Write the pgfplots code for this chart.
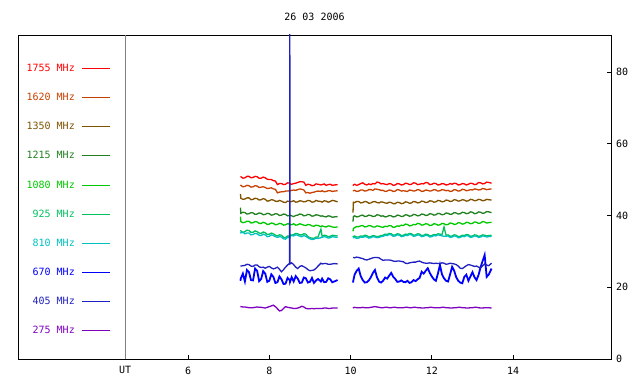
\documentclass[border=0pt]{standalone}
\usepackage{pgfplots}
\usepackage{pgfplotstable}
\pgfplotsset{compat=1.18}
\usepackage{fontspec}
\setmainfont{DejaVu Sans Mono}
\definecolor{c1755}{RGB}{255,0,0}
\definecolor{c1620}{RGB}{200,64,0}
\definecolor{c1350}{RGB}{128,82,0}
\definecolor{c1215}{RGB}{32,128,32}
\definecolor{c1080}{RGB}{0,200,0}
\definecolor{c925}{RGB}{0,192,96}
\definecolor{c810}{RGB}{0,192,192}
\definecolor{c670}{RGB}{0,0,255}
\definecolor{c405}{RGB}{32,32,192}
\definecolor{c275}{RGB}{128,0,192}
\pgfplotstableread{
t a b c d e f g h i j
7.29 50.8 48.5 46.0 42.2 39.7 35.9 35.0 21.8 25.9 14.6
7.30 50.8 48.4 44.8 40.6 38.3 35.7 35.2 22.5 25.9 14.6
7.35 50.4 48.0 44.5 40.9 38.0 35.2 35.4 23.8 26.0 14.5
7.40 50.5 48.1 44.6 40.8 38.1 35.5 34.9 21.6 26.1 14.5
7.45 50.9 48.4 44.9 40.4 38.4 35.9 35.1 24.8 26.4 14.4
7.50 50.9 48.3 44.9 40.5 38.4 35.8 35.1 24.2 26.3 14.3
7.55 50.5 47.9 44.4 40.8 37.9 35.3 34.6 22.0 25.9 14.3
7.60 50.6 48.0 44.5 40.7 38.0 35.3 34.7 21.9 25.8 14.3
7.65 50.9 48.3 44.8 40.3 38.3 35.7 35.0 25.2 26.2 14.4
7.70 50.8 48.2 44.7 40.4 38.2 35.5 34.9 24.6 26.2 14.5
7.75 50.4 47.8 44.3 40.7 37.8 35.1 34.5 21.7 25.7 14.4
7.80 50.4 47.9 44.4 40.6 37.8 35.0 34.4 22.3 25.5 14.4
7.85 50.7 48.0 44.7 40.2 38.1 35.4 34.8 24.5 25.6 14.3
7.90 50.5 47.8 44.5 40.3 37.9 35.2 34.6 23.8 25.3 14.2
7.95 50.1 47.5 44.0 40.6 37.5 34.7 34.1 21.5 25.6 14.4
8.00 50.0 47.6 44.1 40.5 37.6 34.8 34.2 21.8 25.8 14.6
8.05 50.0 47.7 44.4 40.1 37.9 35.1 34.6 23.6 25.4 14.8
8.10 49.7 47.4 44.3 40.2 37.8 34.9 34.4 22.9 25.1 15.0
8.15 49.6 47.3 44.0 40.5 37.4 34.5 34.1 21.2 25.3 14.6
8.20 48.6 46.3 43.9 40.4 37.5 34.3 33.9 21.4 25.6 14.0
8.25 48.9 46.5 44.2 40.0 37.8 34.6 34.1 23.0 25.0 13.4
8.30 48.9 46.6 44.0 40.1 37.7 34.5 34.0 22.2 24.3 13.5
8.35 48.6 46.6 43.7 40.4 37.3 33.9 33.5 20.9 24.9 14.1
8.40 48.7 46.8 43.6 40.3 37.4 33.8 33.4 21.0 25.6 14.6
8.45 49.1 46.8 44.0 39.9 37.7 34.3 33.9 22.6 26.2 14.4
8.50 49.0 46.9 43.9 40.0 37.6 34.2 33.8 22.0 26.7 14.3
8.505 49.0 46.9 43.9 40.0 37.6 34.2 33.8 22.0 95 14.3
8.51 48.8 46.9 43.8 40.1 37.5 34.6 34.2 21.5 26.5 14.3
8.55 48.7 47.0 43.9 39.9 37.4 34.5 34.4 22.8 26.8 14.2
8.60 48.9 47.1 44.1 39.7 37.7 34.7 34.3 21.6 26.3 14.1
8.65 49.0 47.0 43.7 40.0 37.3 35.0 34.6 23.1 25.6 14.1
8.70 49.2 47.2 43.8 40.1 37.4 34.9 34.5 22.4 25.2 14.2
8.75 49.4 47.4 44.1 40.4 37.7 34.6 34.2 21.2 25.8 14.4
8.80 49.4 47.3 44.0 40.3 37.5 34.6 34.1 21.3 26.0 14.7
8.85 49.3 47.1 43.8 39.9 37.3 34.9 34.4 22.7 25.7 14.5
8.90 48.4 46.3 43.9 40.0 37.2 34.8 34.2 22.5 25.4 14.1
8.95 48.7 46.4 44.2 40.3 37.5 34.1 33.8 21.3 24.9 14.0
9.00 48.6 46.2 44.1 40.2 37.4 33.8 33.5 21.5 24.6 14.0
9.05 48.3 46.4 43.7 39.8 37.1 33.7 33.3 22.6 24.7 14.1
9.10 48.4 46.5 43.8 39.9 37.0 33.6 33.4 21.2 24.8 14.0
9.15 48.8 46.7 44.2 40.2 37.3 34.0 33.7 21.9 25.3 14.1
9.20 48.7 46.8 44.0 40.1 37.2 34.0 33.6 22.3 25.9 14.1
9.27 48.5 46.7 43.9 39.8 36.9 36.2 33.8 21.6 26.7 14.1
9.30 48.6 46.9 43.7 39.9 37.1 34.2 33.9 22.4 26.5 14.1
9.35 48.8 46.6 44.1 39.7 36.9 34.5 34.1 21.4 26.6 14.2
9.40 48.4 46.7 44.0 39.6 36.8 34.4 34.0 21.5 26.6 14.2
9.45 48.6 46.9 43.7 39.9 37.1 34.1 33.7 22.5 26.4 14.1
9.50 48.7 46.9 43.9 39.8 37.0 34.2 33.8 22.2 26.4 14.1
9.55 48.4 46.7 44.2 39.5 36.8 34.5 34.1 21.4 26.5 14.2
9.60 48.5 46.8 44.1 39.6 36.7 34.4 34.0 21.6 26.6 14.2
9.68 48.6 46.9 43.8 39.7 36.8 34.3 33.9 22.0 26.5 14.2
9.90 nan nan nan nan nan nan nan nan nan nan
10.06 48.3 47.0 40.8 38.3 35.6 34.3 33.9 21.3 28.3 14.2
10.07 48.5 46.9 43.7 39.7 36.4 34.1 33.8 22.0 28.3 14.3
10.10 48.7 47.0 43.6 39.9 36.6 34.3 33.9 23.5 28.2 14.4
10.15 48.4 46.7 43.9 39.6 36.9 34.0 33.6 24.6 28.4 14.3
10.20 48.6 46.8 43.9 39.7 36.9 34.0 33.7 25.2 28.3 14.3
10.25 48.9 47.1 43.5 40.0 37.1 34.3 34.0 23.1 28.1 14.3
10.30 49.1 47.1 43.6 40.1 37.2 34.2 33.9 22.0 28.0 14.4
10.35 48.7 46.8 43.9 39.7 36.8 34.5 34.1 21.3 27.7 14.3
10.40 48.5 46.9 43.8 39.8 36.9 34.4 34.0 21.4 27.6 14.3
10.45 48.8 47.2 43.4 40.1 37.2 34.0 33.7 21.9 27.8 14.3
10.50 48.6 47.2 43.5 40.0 37.1 34.1 33.8 22.8 28.0 14.4
10.55 48.9 47.0 43.8 39.7 36.8 34.4 34.1 24.0 28.2 14.5
10.60 48.8 47.4 43.9 39.8 36.8 34.3 34.0 24.8 28.3 14.6
10.65 49.3 47.3 43.6 40.2 37.1 34.1 33.8 22.8 28.3 14.5
10.70 49.2 47.2 43.5 40.1 37.0 34.2 33.9 21.6 28.2 14.4
10.75 48.8 47.0 43.8 39.8 36.8 34.4 34.1 21.3 27.8 14.3
10.80 48.9 47.0 43.7 39.9 36.7 34.5 34.2 21.8 27.5 14.3
10.85 48.7 46.7 43.5 39.6 37.0 34.8 34.5 22.7 27.6 14.4
10.90 48.6 46.8 43.4 39.7 36.9 34.7 34.4 22.4 27.6 14.4
10.95 48.9 47.1 43.7 40.0 37.2 35.0 34.7 23.2 27.6 14.3
11.00 48.8 47.0 43.6 39.9 37.1 34.9 34.6 24.0 27.5 14.3
11.05 48.4 46.7 43.3 39.6 36.7 34.5 34.2 22.9 27.3 14.4
11.10 48.5 46.8 43.3 39.7 36.8 34.6 34.3 22.3 27.2 14.4
11.15 48.9 47.2 43.7 40.1 37.1 34.9 34.6 21.5 27.3 14.3
11.20 48.8 47.1 43.6 40.0 37.0 34.8 34.5 21.6 27.3 14.3
11.25 48.5 46.8 43.3 39.7 37.3 34.4 34.1 21.9 27.2 14.3
11.30 48.6 46.9 43.4 39.8 37.2 34.5 34.2 21.5 27.1 14.3
11.35 49.0 46.8 43.8 40.2 37.6 34.8 34.5 21.4 26.7 14.4
11.40 48.9 46.7 43.7 40.1 37.5 34.7 34.4 21.8 26.6 14.4
11.45 48.6 47.1 43.4 39.8 37.1 35.0 34.7 21.2 26.8 14.3
11.50 48.7 47.0 43.5 39.9 37.2 34.9 34.6 21.4 26.9 14.3
11.55 49.1 46.8 43.9 40.3 37.5 34.5 34.2 22.0 27.0 14.4
11.60 49.0 46.9 43.8 40.2 37.4 34.6 34.3 21.7 27.0 14.4
11.65 48.6 47.2 43.5 39.9 37.8 34.9 34.6 22.2 27.2 14.3
11.70 48.7 47.1 43.6 40.0 37.7 34.8 34.5 22.6 27.3 14.3
11.75 48.9 46.7 44.0 40.4 37.3 34.4 34.1 24.3 27.0 14.2
11.80 48.8 46.8 43.9 40.3 37.4 34.5 34.2 23.8 26.8 14.2
11.85 49.2 47.1 43.6 40.0 37.7 34.8 34.5 24.6 26.7 14.3
11.90 49.1 47.0 43.7 40.1 37.6 34.7 34.4 25.3 26.7 14.3
11.95 48.6 46.8 44.1 40.5 37.2 34.3 34.0 24.0 26.8 14.4
12.00 48.7 46.9 44.0 40.4 37.3 34.4 34.1 23.0 26.7 14.4
12.05 49.0 47.2 43.7 40.1 37.7 34.7 34.4 22.2 26.6 14.3
12.10 48.9 47.1 43.8 40.2 37.6 34.6 34.3 21.8 26.7 14.3
12.15 48.5 46.8 44.2 40.6 37.3 34.9 34.6 23.8 26.6 14.3
12.20 48.6 46.9 44.1 40.5 37.4 34.8 34.5 26.2 26.6 14.3
12.25 48.9 47.2 43.8 40.2 37.8 34.6 34.3 23.6 26.8 14.4
12.30 48.8 47.1 43.9 40.3 37.7 36.8 34.2 22.5 26.7 14.4
12.35 48.5 46.9 44.3 40.7 37.4 34.5 34.2 21.8 26.4 14.3
12.40 48.6 47.0 44.2 40.6 37.5 34.6 34.3 21.6 26.5 14.3
12.45 48.9 46.7 43.9 40.3 37.9 34.2 33.9 23.6 26.7 14.2
12.50 48.7 46.8 44.0 40.4 37.8 34.3 34.0 25.7 26.6 14.2
12.55 49.0 47.2 44.4 40.8 37.5 34.6 34.3 24.6 26.5 14.3
12.60 48.9 47.1 44.3 40.7 37.6 34.5 34.2 22.8 26.3 14.3
12.65 48.5 46.8 44.0 40.4 38.0 34.1 33.8 21.8 25.9 14.4
12.70 48.6 46.9 44.1 40.5 37.9 34.2 33.9 21.3 25.3 14.4
12.75 48.9 47.3 44.4 40.9 37.6 34.5 34.2 21.1 25.2 14.3
12.80 48.8 47.2 44.3 40.8 37.7 34.4 34.1 22.9 25.6 14.3
12.85 48.5 46.9 44.0 40.5 38.1 34.7 34.4 23.5 26.0 14.2
12.90 48.7 47.0 44.1 40.6 38.0 34.6 34.3 21.8 26.3 14.2
12.95 49.0 47.2 44.5 41.0 37.7 34.2 33.9 23.0 26.2 14.3
13.00 48.9 47.1 44.4 40.9 37.8 34.3 34.0 24.2 26.0 14.3
13.05 48.6 47.4 44.1 40.5 38.2 34.6 34.3 22.8 25.8 14.4
13.10 48.7 47.3 44.2 40.6 38.1 34.5 34.2 22.0 25.9 14.4
13.15 49.2 47.1 44.5 41.0 37.8 34.2 33.9 23.4 25.6 14.3
13.20 49.1 47.2 44.4 40.9 37.9 34.3 34.0 25.6 25.4 14.2
13.25 48.8 47.5 44.1 40.6 38.3 34.6 34.3 27.3 26.0 14.2
13.30 48.9 47.4 44.2 40.7 38.2 34.5 34.2 29.0 26.5 14.3
13.35 49.3 47.2 44.5 41.1 37.9 34.3 34.0 22.9 26.2 14.3
13.40 49.2 47.3 44.4 41.0 38.0 34.4 34.1 23.5 26.0 14.3
13.47 49.0 47.4 44.3 40.8 38.1 34.5 34.2 25.2 26.7 14.2
}\radio
\begin{document}
\begin{tikzpicture}[font=\fontsize{10}{12}\selectfont]
\useasboundingbox (0,0) rectangle (640pt,384pt);
\begin{axis}[
  at={(18pt,25pt)}, anchor=south west,
  scale only axis, width=593pt, height=324pt,
  xmin=1.815, xmax=16.41, ymin=0, ymax=90.3,
  xtick={6,8,10,12,14}, ytick={0,20,40,60,80},
  xtick pos=bottom, ytick pos=right, yticklabel pos=right,
  tick align=inside, major tick length=4pt,
  tick style={black, line width=0.8pt},
  axis line style={line width=0.8pt},
  /pgf/number format/assume math mode=true,
  xticklabel style={yshift=-5pt},
  yticklabel style={xshift=1.5pt},
  extra x ticks={4.45}, extra x tick labels={UT},
  extra x tick style={grid=major, major grid style={gray, line width=0.8pt}, major tick length=0pt,
    xticklabel style={yshift=1pt}},
  title={26 03 2006},
  title style={at={(0.5,1)}, anchor=center, yshift=12pt},
  unbounded coords=jump,
  legend plot pos=right,
  legend cell align=right,
  legend image code/.code={\draw[#1, line width=1pt] (0pt,-0.5pt) -- (28pt,-0.5pt);},
  legend style={draw=none, fill=none, at={(0.1568,0.909)}, anchor=north east, inner sep=0pt,
    row sep=22.1pt, nodes={inner sep=0pt, text height=7pt, text depth=0pt},
    /tikz/every odd column/.style={column sep=7pt}},
  every axis plot/.append style={line width=1.3pt},
]
\addplot[c1755] table[x=t,y=a]{\radio};
\addlegendentry{\textcolor{c1755}{1755 MHz}}
\addplot[c1620] table[x=t,y=b]{\radio};
\addlegendentry{\textcolor{c1620}{1620 MHz}}
\addplot[c1350] table[x=t,y=c]{\radio};
\addlegendentry{\textcolor{c1350}{1350 MHz}}
\addplot[c1215] table[x=t,y=d]{\radio};
\addlegendentry{\textcolor{c1215}{1215 MHz}}
\addplot[c1080] table[x=t,y=e]{\radio};
\addlegendentry{\textcolor{c1080}{1080 MHz}}
\addplot[c925] table[x=t,y=f]{\radio};
\addlegendentry{\textcolor{c925}{925 MHz}}
\addplot[c810] table[x=t,y=g]{\radio};
\addlegendentry{\textcolor{c810}{810 MHz}}
\addplot[c670, line width=1.8pt] table[x=t,y=h]{\radio};
\addlegendentry{\textcolor{c670}{670 MHz}}
\addplot[c405] table[x=t,y=i]{\radio};
\addlegendentry{\textcolor{c405}{405 MHz}}
\addplot[c275] table[x=t,y=j]{\radio};
\addlegendentry{\textcolor{c275}{275 MHz}}
\end{axis}
\end{tikzpicture}
\end{document}
